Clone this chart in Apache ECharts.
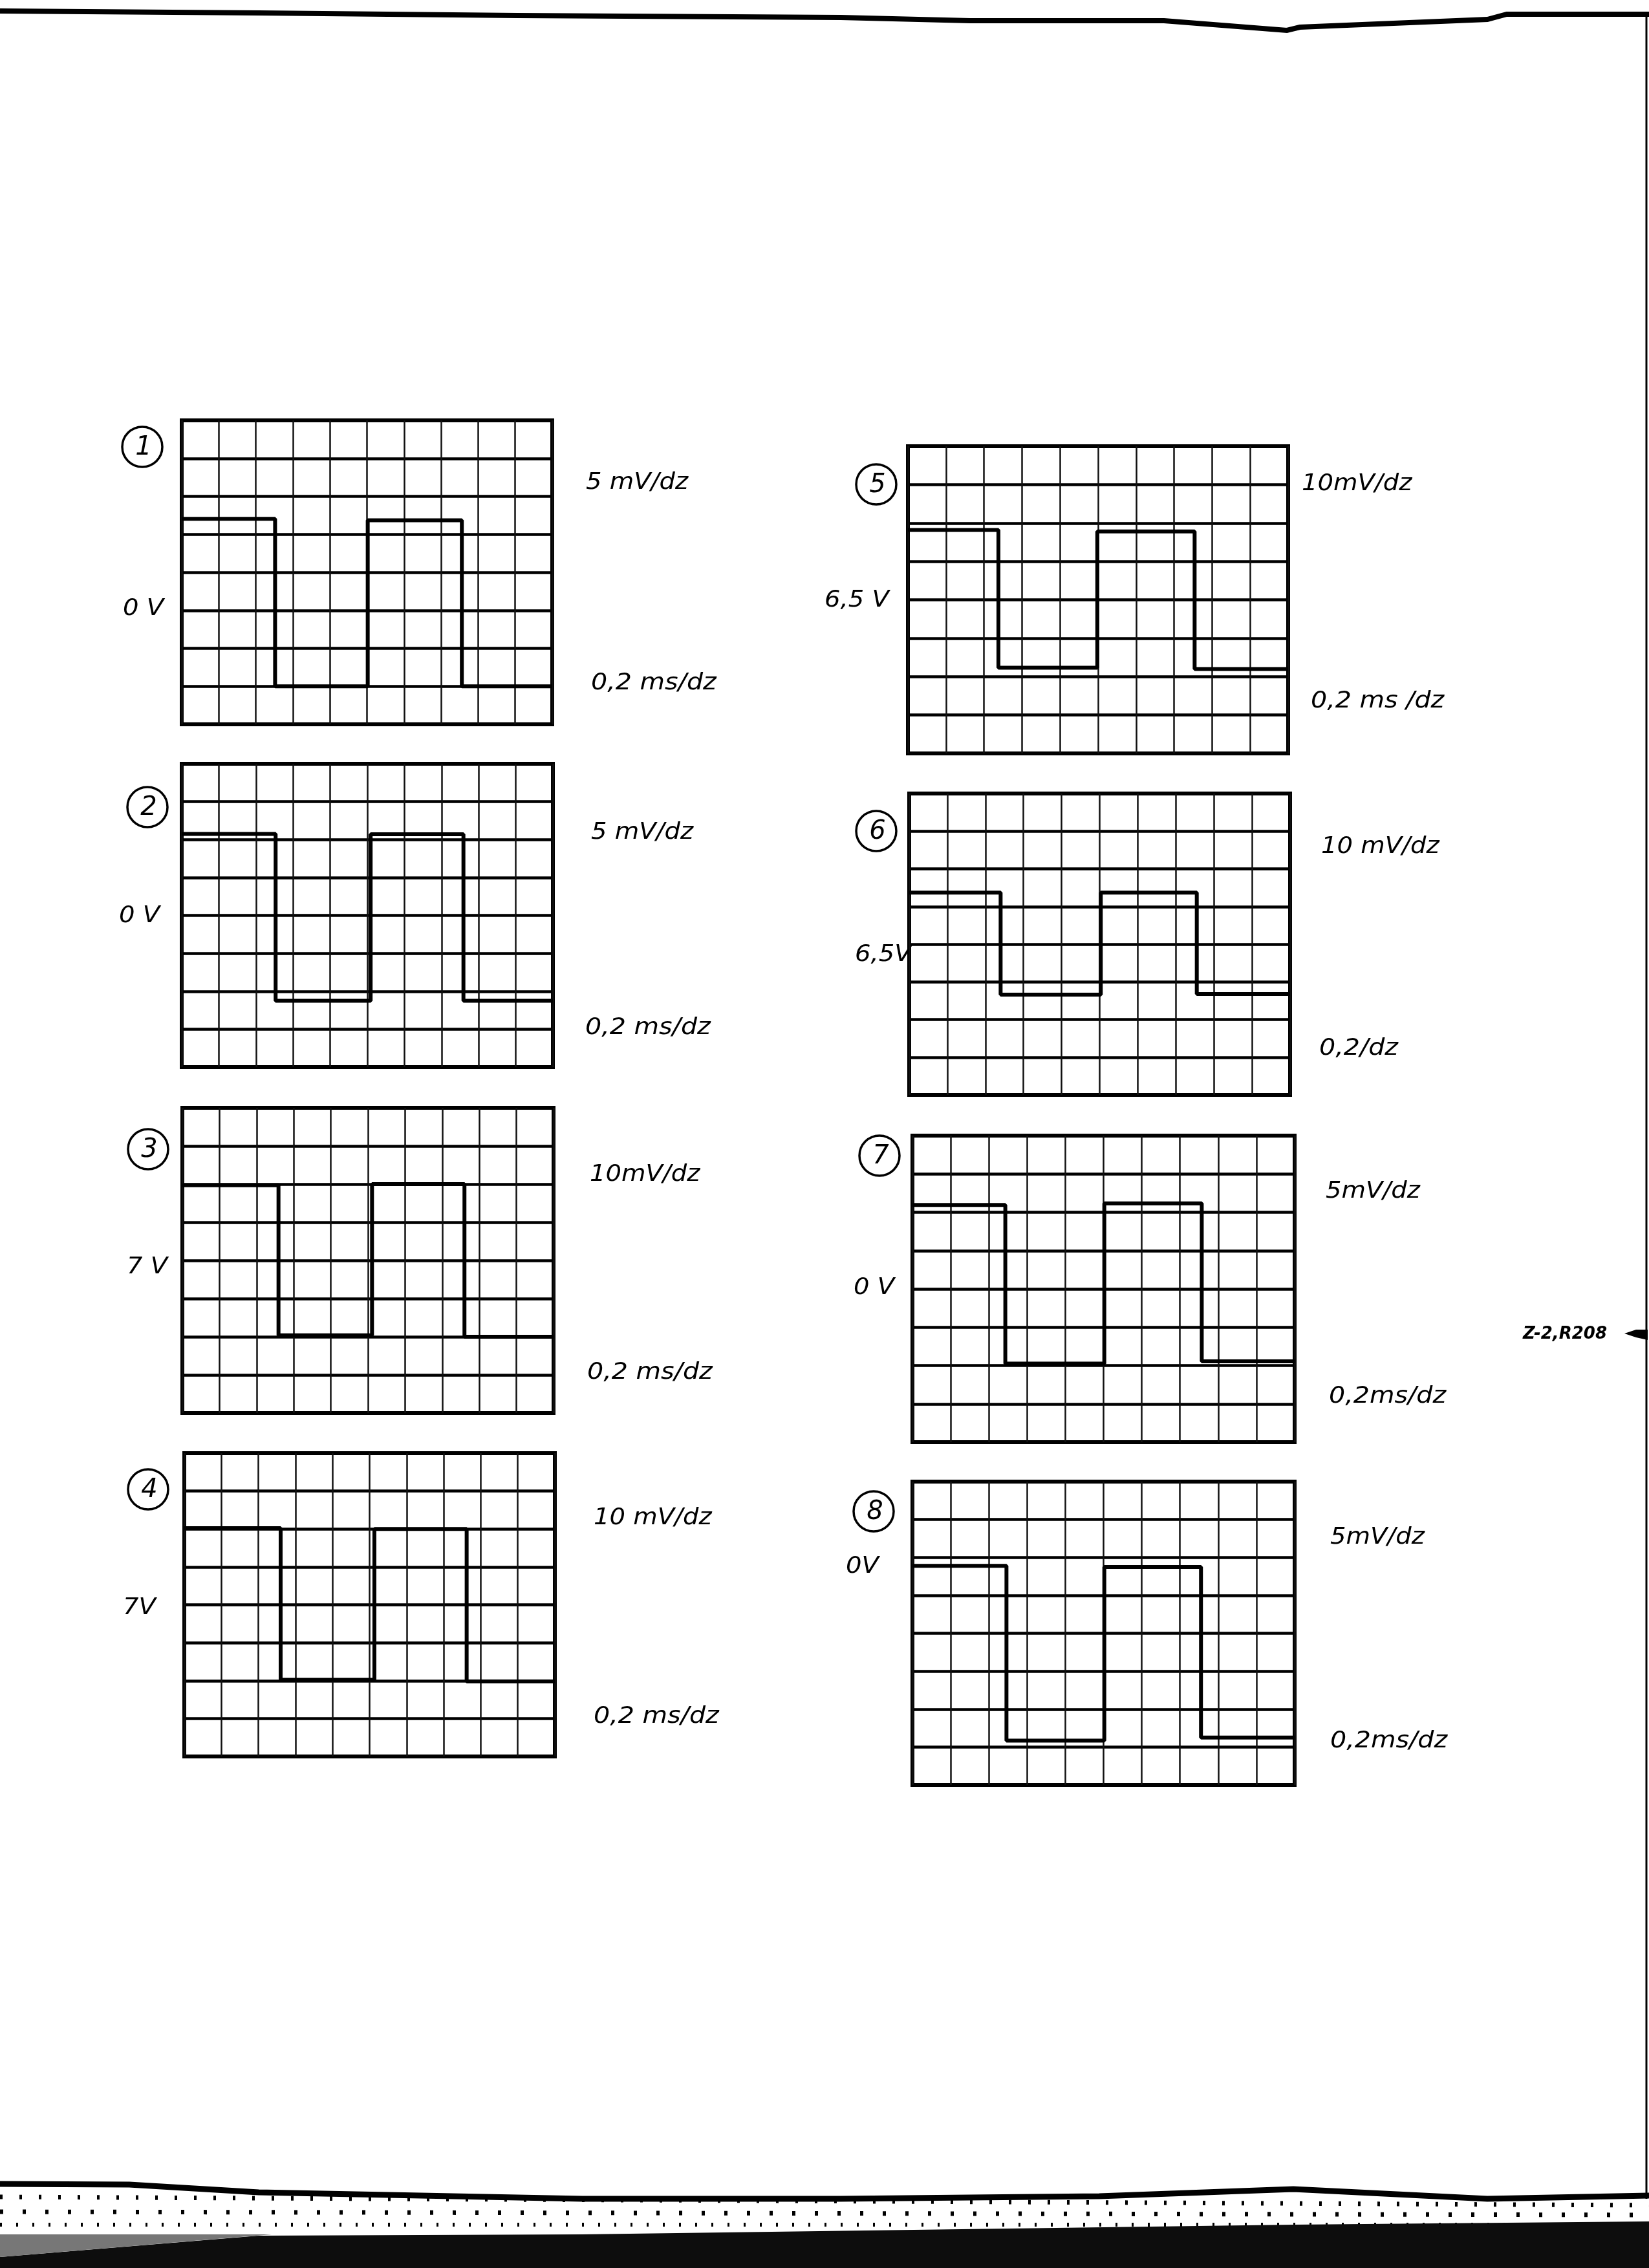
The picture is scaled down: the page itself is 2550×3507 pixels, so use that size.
<!DOCTYPE html>
<html>
<head>
<meta charset="utf-8">
<script src="https://cdn.jsdelivr.net/npm/echarts@6/dist/echarts.min.js"></script>
<style>
html,body{margin:0;padding:0;background:#fff;}
#scope{width:2550px;height:3507px;}
</style>
</head>
<body>
<div id="scope"></div>
<script>
// switching times of each trace (divisions, 0..10) and the level of every piece (divisions from bottom, 0..8)
var edges1=[0,2.52,5.02,7.56,10];  var levels1=[5.41,1.0,5.37,1.0];
var edges2=[0,2.53,5.09,7.59,10];  var levels2=[6.15,1.75,6.14,1.75];
var edges3=[0,2.59,5.11,7.6,10];   var levels3=[5.97,2.04,6.0,2.0];
var edges4=[0,2.6,5.13,7.62,10];   var levels4=[6.02,2.02,6.0,1.98];
var edges5=[0,2.38,4.98,7.54,10];  var levels5=[5.82,2.23,5.78,2.2];
var edges6=[0,2.4,5.03,7.55,10];   var levels6=[5.37,2.66,5.37,2.68];
var edges7=[0,2.43,5.02,7.57,10];  var levels7=[6.19,2.05,6.23,2.11];
var edges8=[0,2.46,5.02,7.55,10];  var levels8=[5.78,1.17,5.75,1.25];

var panelNo=["1","2","3","4","5","6","7","8"];
var voltDiv=["5 mV/dz","5 mV/dz","10mV/dz","10 mV/dz","10mV/dz","10 mV/dz","5mV/dz","5mV/dz"];
var timeDiv=["0,2 ms/dz","0,2 ms/dz","0,2 ms/dz","0,2 ms/dz","0,2 ms /dz","0,2/dz","0,2ms/dz","0,2ms/dz"];
var dcLevel=["0 V","0 V","7 V","7V","6,5 V","6,5V","0 V","0V"];

var allEdges=[edges1,edges2,edges3,edges4,edges5,edges6,edges7,edges8];
var allLevels=[levels1,levels2,levels3,levels4,levels5,levels6,levels7,levels8];

// screen boxes [left, top, width, height]
var boxes=[
  [281,650,573,470],[281,1181,574,469],[282,1713,574,472],[285,2247,573,469],
  [1404,690,588,475],[1406,1227,589,466],[1411,1756,591,474],[1411,2291,591,469]
];
// label spots: circle centre, volts/div, time/div, dc level
var circlePos=[[220,691],[228,1248],[229,1777],[229,2303],[1355,749],[1355,1285],[1360,1787],[1351,2337]];
var voltPos=[[906,747],[914,1288],[912,1817],[918,2348],[2013,749],[2043,1310],[2050,1843],[2057,2378]];
var timePos=[[914,1057],[905,1590],[908,2123],[918,2655],[2027,1085],[2040,1622],[2055,2160],[2057,2693]];
var dcPos=[[190,942],[184,1417],[196,1960],[190,2487],[1275,929],[1322,1477],[1320,1992],[1308,2423]];

var chart=echarts.init(document.getElementById('scope'));
var grids=[],xAxes=[],yAxes=[],series=[],graphics=[];
var labelFont='italic 35px "DejaVu Sans"';

for(var i=0;i<8;i++)
{
  var b=boxes[i];
  grids.push({left:b[0],top:b[1],width:b[2],height:b[3],show:true,borderColor:'#000',borderWidth:6,backgroundColor:'#fff'});
  xAxes.push({
    type:'value',gridIndex:i,min:0,max:10,interval:1,
    axisLabel:{show:false},axisTick:{show:false},axisLine:{show:false},
    splitLine:{show:true,lineStyle:{color:'#111',width:2.5}}
  });
  yAxes.push({
    type:'value',gridIndex:i,min:0,max:8,interval:1,
    axisLabel:{show:false},axisTick:{show:false},axisLine:{show:false},
    splitLine:{show:true,lineStyle:{color:'#000',width:4.5}}
  });
  var pts=[];
  for(var j=0;j<allEdges[i].length;j++)
  {
    var lv=allLevels[i][Math.min(j,allLevels[i].length-1)];
    pts.push([allEdges[i][j],lv]);
  }
  series.push({
    type:'line',xAxisIndex:i,yAxisIndex:i,step:'end',symbol:'none',
    data:pts,lineStyle:{color:'#000',width:6},z:5
  });
  //circled number
  graphics.push({type:'circle',shape:{cx:circlePos[i][0],cy:circlePos[i][1],r:31},style:{fill:'none',stroke:'#000',lineWidth:3.5}});
  graphics.push({type:'text',x:circlePos[i][0]+2,y:circlePos[i][1]+2,style:{text:panelNo[i],font:'italic 200 40px "DejaVu Sans"',fill:'#000',align:'center',verticalAlign:'middle'}});
  //scale texts
  graphics.push({type:'text',x:voltPos[i][0],y:voltPos[i][1],scaleX:1.1,style:{text:voltDiv[i],font:labelFont,fill:'#000',align:'left',verticalAlign:'middle'}});
  graphics.push({type:'text',x:timePos[i][0],y:timePos[i][1],scaleX:1.13,style:{text:timeDiv[i],font:labelFont,fill:'#000',align:'left',verticalAlign:'middle'}});
  graphics.push({type:'text',x:dcPos[i][0],y:dcPos[i][1],scaleX:1.1,style:{text:dcLevel[i],font:labelFont,fill:'#000',align:'left',verticalAlign:'middle'}});
}

// side reference with arrow
graphics.push({type:'text',x:2355,y:2063,style:{text:'Z-2,R208',font:'italic bold 26px "DejaVu Sans"',fill:'#000',align:'left',verticalAlign:'middle'}});
graphics.push({type:'polygon',shape:{points:[[2512,2062],[2530,2056],[2548,2056],[2548,2072],[2530,2068]]},style:{fill:'#000'}});
graphics.push({type:'line',shape:{x1:2546,y1:20,x2:2546,y2:3400},style:{stroke:'#000',lineWidth:3}});

// scanned page edges
graphics.push({type:'polyline',shape:{points:[[0,17],[400,20],[800,24],[1300,27],[1500,32],[1800,32],[1990,47],[2010,42],[2300,30],[2330,22],[2550,22]]},style:{stroke:'#000',lineWidth:8,fill:'none'}});
graphics.push({type:'polyline',shape:{points:[[0,3377],[200,3378],[400,3390],[900,3400],[1300,3400],[1700,3396],[2000,3385],[2300,3400],[2550,3395]]},style:{stroke:'#000',lineWidth:9,fill:'none'}});
graphics.push({type:'polyline',shape:{points:[[0,3397],[2550,3410]]},style:{stroke:'#000',lineWidth:7,fill:'none',lineDash:[4,26]}});
graphics.push({type:'polyline',shape:{points:[[0,3420],[2550,3425]]},style:{stroke:'#000',lineWidth:7,fill:'none',lineDash:[5,30]}});
graphics.push({type:'polyline',shape:{points:[[0,3440],[2550,3440]]},style:{stroke:'#000',lineWidth:6,fill:'none',lineDash:[3,22]}});
graphics.push({type:'polygon',shape:{points:[[0,3490],[400,3457],[900,3455],[2000,3440],[2550,3435],[2550,3507],[0,3507]]},style:{fill:'#0d0d0d'}});
graphics.push({type:'polygon',shape:{points:[[0,3455],[420,3455],[0,3490]]},style:{fill:'#777'}});

chart.setOption({
  animation:false,
  backgroundColor:'#fff',
  grid:grids,
  xAxis:xAxes,
  yAxis:yAxes,
  series:series,
  graphic:{elements:graphics}
});
</script>
</body>
</html>
